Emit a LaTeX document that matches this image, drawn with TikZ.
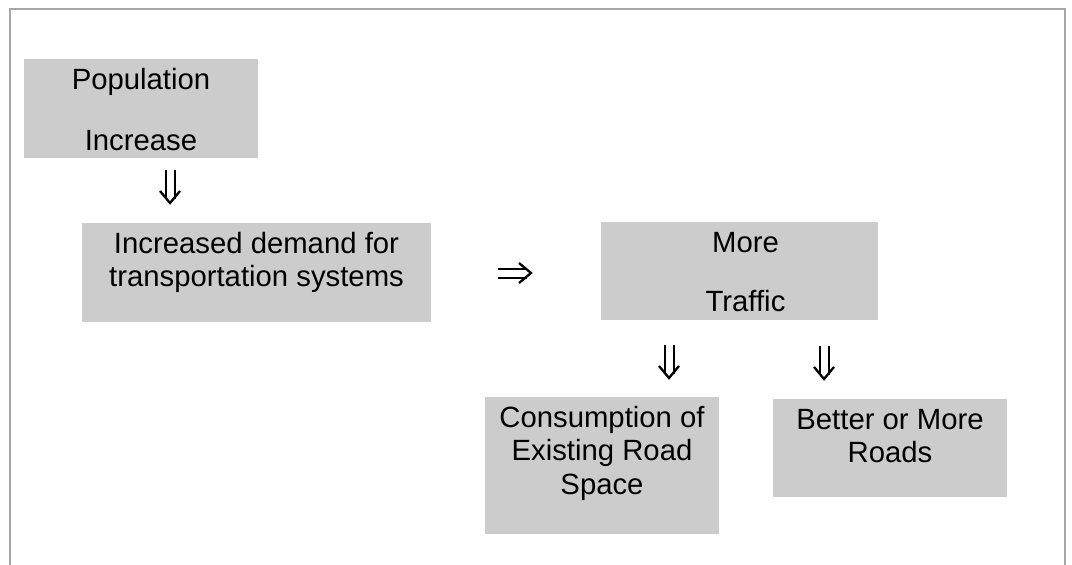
\documentclass[tikz,border=0pt]{standalone}
\usepackage{fontspec}
\setmainfont{Liberation Sans}
\usetikzlibrary{arrows.meta,calc}
\definecolor{boxgray}{HTML}{CCCCCC}
\definecolor{framegray}{HTML}{A6A6A6}
\newcommand{\bxtext}[3]{\parbox[t][#2][t]{#1}{\centering\rule{0pt}{30pt}#3\par}}
\tikzset{
  box/.style={anchor=north west, inner sep=0pt, outer sep=0pt, fill=boxgray,
    font=\fontsize{29.3}{33.5}\selectfont},
  shaft/.style={line width=2pt, double distance=7pt, shorten >=4pt},
  head/.style={line width=2.3pt, line join=miter},
  frameline/.style={draw=framegray, line width=2pt}
}
\begin{document}
\begin{tikzpicture}[x=1pt,y=-1pt]
\useasboundingbox (0,0) rectangle (1072,565);
\draw[frameline] (9.5,565) -- (9.5,8.5) -- (1065,8.5) -- (1065,565);

\node[box] (pop) at (24,59) {\bxtext{234pt}{99pt}{Population\\[27.5pt]Increase}};
\node[box] (dem) at (82,223) {\bxtext{349pt}{99pt}{Increased demand for\\transportation systems}};
\node[box] (traf) at (601,222) {\bxtext{277pt}{98pt}{\hspace*{12pt}More\\[25.5pt]\hspace*{12pt}Traffic}};
\node[box] (cons) at (485,397) {\bxtext{234pt}{137pt}{Consumption of\\Existing Road\\Space}};
\node[box] (road) at (773,399) {\bxtext{234pt}{98pt}{Better or More\\Roads}};

\coordinate (a1s) at (170,170); \coordinate (a1e) at (170,203);
\coordinate (a2s) at (498,273); \coordinate (a2e) at (531,273);
\coordinate (a3s) at (669,345); \coordinate (a3e) at (669,378);
\coordinate (a4s) at (824,346); \coordinate (a4e) at (824,379);
\foreach \a in {1,3,4}{
  \draw[shaft] (a\a s) -- (a\a e);
  \draw[head] ($(a\a e)+(-10,-12)$) -- (a\a e) -- ($(a\a e)+(10,-12)$);
}
\draw[shaft] (a2s) -- (a2e);
\draw[head] ($(a2e)+(-12,-10)$) -- (a2e) -- ($(a2e)+(-12,10)$);
\end{tikzpicture}
\end{document}
